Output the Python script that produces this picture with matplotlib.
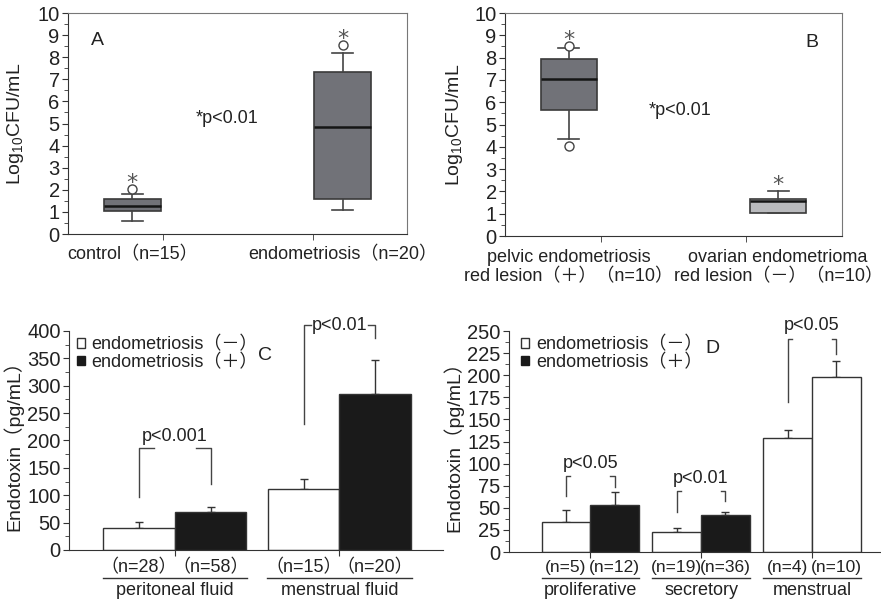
import numpy as np
import matplotlib.pyplot as plt
from matplotlib.patches import Patch

plt.rcParams['font.family'] = ['Liberation Sans', 'Noto Sans CJK JP']
plt.rcParams['font.size'] = 13
plt.rcParams['text.color'] = '#222222'
plt.rcParams['axes.labelcolor'] = '#222222'
plt.rcParams['xtick.color'] = '#333333'
plt.rcParams['ytick.color'] = '#333333'
plt.rcParams['xtick.labelcolor'] = '#222222'
plt.rcParams['ytick.labelcolor'] = '#222222'

# ---- A: log10 CFU/mL box plots ----
a_labels = ['control（n=15）', 'endometriosis（n=20）']
a_q1 = [1.05, 1.58]
a_med = [1.29, 4.83]
a_q3 = [1.58, 7.34]
a_lo = [0.57, 1.07]
a_hi = [1.80, 8.21]
a_out = [[2.05], [8.54]]

# ---- B ----
b_labels = ['pelvic endometriosis\nred lesion（＋）（n=10）',
            'ovarian endometrioma\nred lesion（－）（n=10）']
b_q1 = [5.64, 1.01]
b_med = [7.04, 1.55]
b_q3 = [7.93, 1.66]
b_lo = [4.34, 1.01]
b_hi = [8.45, 2.04]
b_out = [[8.50, 4.03], []]

# ---- C: endotoxin, mean + SE ----
c_groups = ['peritoneal fluid', 'menstrual fluid']
c_neg = [40.7, 111.9]
c_neg_err = [9.8, 18.1]
c_pos = [69.3, 284.5]
c_pos_err = [8.5, 63.2]
c_n_neg = ['（n=28）', '（n=15）']
c_n_pos = ['（n=58）', '（n=20）']
c_p = ['p<0.001', 'p<0.01']
c_br_left = [97, 231]
c_br_right = [120, 387]
c_br_top = [187, 410]

# ---- D ----
d_groups = ['proliferative', 'secretory', 'menstrual']
d_neg = [33.5, 22.6, 129.1]
d_neg_err = [13.9, 4.1, 8.7]
d_pos = [53.5, 41.4, 197.7]
d_pos_err = [13.9, 4.2, 18.0]
d_n_neg = ['(n=5)', '(n=19)', '(n=4)']
d_n_pos = ['(n=12)', '(n=36)', '(n=10)']
d_p = ['p<0.05', 'p<0.01', 'p<0.05']
d_br_left = [63, 45, 170]
d_br_right = [74, 58, 224]
d_br_top = [85.5, 68.5, 241]

legend_labels = ['endometriosis（－）', 'endometriosis（＋）']

fig = plt.figure(figsize=(8.81, 6.01), dpi=100)
axA = fig.add_axes([0.0772, 0.6106, 0.3848, 0.3677])
axB = fig.add_axes([0.5732, 0.6073, 0.3825, 0.3710])
axC = fig.add_axes([0.0783, 0.0849, 0.4245, 0.3644])
axD = fig.add_axes([0.5778, 0.0815, 0.4222, 0.3677])


def box_panel(ax, labels, q1, med, q3, lo, hi, out, colors, boundaries):
    stats = []
    for i in range(len(labels)):
        stats.append(dict(q1=q1[i], med=med[i], q3=q3[i], whislo=lo[i],
                          whishi=hi[i], fliers=out[i]))
    ax.bxp(stats, positions=[1, 2], widths=0.27, capwidths=0.1,
           patch_artist=True, showfliers=True,
           boxprops=dict(edgecolor='#3a3a3a', linewidth=1.2),
           medianprops=dict(color='#151515', linewidth=1.8),
           whiskerprops=dict(color='#444444', linewidth=1.2),
           capprops=dict(color='#444444', linewidth=1.2),
           flierprops=dict(marker='o', markerfacecolor='white',
                           markeredgecolor='#444444', markersize=6.5))
    for patch, c in zip(ax.patches, colors):
        patch.set_facecolor(c)
    # asterisks above each group
    for i in range(len(labels)):
        top = max([hi[i]] + out[i])
        ax.text(i + 1, top, '*', ha='center', va='baseline',
                fontsize=16, color='#555555', family='DejaVu Sans')
    ax.set_xlim(0.695, 2.305)
    ax.set_ylim(0, 10)
    ax.set_yticks(np.arange(0, 11, 1))
    ax.set_yticks(np.arange(0.5, 10, 1), minor=True)
    ax.set_xticks([1, 2], labels)
    ax.set_xticks(boundaries, minor=True)
    ax.tick_params(axis='x', which='major', length=0, pad=9)
    ax.tick_params(axis='x', which='minor', length=4, direction='out')
    ax.tick_params(axis='y', which='major', length=4, pad=2, labelsize=14.5)
    ax.tick_params(axis='y', which='minor', length=3)
    for s in ['left', 'bottom']:
        ax.spines[s].set_color('#333333')
    for s in ['top', 'right']:
        ax.spines[s].set_color('#777777')
    ax.set_ylabel('Log$_{\\mathregular{10}}$CFU/mL', fontsize=14)


box_panel(axA, a_labels, a_q1, a_med, a_q3, a_lo, a_hi, a_out,
          ['#717278', '#717278'], [1.148, 1.857])
axA.yaxis.set_label_coords(-0.124, 0.5)
axA.text(0.088, 0.878, 'A', transform=axA.transAxes, fontsize=14,
         ha='center', va='center')
axA.text(0.469, 0.525, '*p<0.01', transform=axA.transAxes,
         ha='center', va='center')

box_panel(axB, b_labels, b_q1, b_med, b_q3, b_lo, b_hi, b_out,
          ['#717278', '#b9babd'], [1.155, 1.847])
axB.yaxis.set_label_coords(-0.119, 0.5)
axB.text(0.911, 0.87, 'B', transform=axB.transAxes, fontsize=14,
         ha='center', va='center')
axB.text(0.519, 0.565, '*p<0.01', transform=axB.transAxes,
         ha='center', va='center')


def bar_panel(ax, groups, neg, neg_err, pos, pos_err, pos_colors, n_neg, n_pos,
              width, ylim, major, minor, lab_y, line_y, grp_y, n_size, leg_x):
    x = np.arange(len(groups))
    ax.bar(x - width / 2, neg, width, color='white', edgecolor='#333333',
           linewidth=1.0, zorder=2)
    ax.bar(x + width / 2, pos, width, color=pos_colors, edgecolor='#333333',
           linewidth=1.0, zorder=2)
    ax.errorbar(x - width / 2, neg, yerr=[np.zeros(len(x)), neg_err], fmt='none',
                ecolor='#333333', elinewidth=1.0, capsize=3, zorder=1)
    ax.errorbar(x + width / 2, pos, yerr=[np.zeros(len(x)), pos_err], fmt='none',
                ecolor='#333333', elinewidth=1.0, capsize=3, zorder=1)
    ax.set_ylim(*ylim)
    ax.set_yticks(major)
    ax.set_yticks(minor, minor=True)
    ax.set_xticks(x, [''] * len(x))
    ax.tick_params(axis='x', length=4, direction='out')
    ax.tick_params(axis='y', which='major', length=4, pad=2, labelsize=14.5)
    ax.tick_params(axis='y', which='minor', length=3)
    for s in ['top', 'right']:
        ax.spines[s].set_visible(False)
    for s in ['left', 'bottom']:
        ax.spines[s].set_color('#333333')
    tr = ax.get_xaxis_transform()
    for i in range(len(x)):
        ax.text(x[i] - width / 2, lab_y, n_neg[i], transform=tr, ha='center',
                va='center', fontsize=n_size)
        ax.text(x[i] + width / 2, lab_y, n_pos[i], transform=tr, ha='center',
                va='center', fontsize=n_size)
        ax.plot([x[i] - 0.44, x[i] + 0.44], [line_y, line_y], transform=tr,
                color='#333333', lw=1.0, clip_on=False)
        ax.text(x[i], grp_y, groups[i], transform=tr, ha='center', va='center')
    ax.set_ylabel('Endotoxin（pg/mL）', fontsize=14)
    ax.legend(handles=[Patch(facecolor='white', edgecolor='#333333'),
                       Patch(facecolor='#1a1a1a', edgecolor='#1a1a1a')],
              labels=legend_labels, loc='upper left',
              bbox_to_anchor=(leg_x, 0.975),
              frameon=False, handlelength=0.45, handleheight=0.45,
              handletextpad=0.35, labelspacing=0.0, borderaxespad=0,
              borderpad=0.0)


def bracket(ax, x1, x2, yl, yr, yt, gap, text, text_y):
    xc = (x1 + x2) / 2
    kw = dict(color='#444444', lw=1.0, clip_on=False)
    ax.plot([x1, x1, xc - gap], [yl, yt, yt], **kw)
    ax.plot([xc + gap, x2, x2], [yt, yt, yr], **kw)
    ax.text(xc, text_y, text, ha='center', va='center', clip_on=False)


wc = 0.4347
bar_panel(axC, c_groups, c_neg, c_neg_err, c_pos, c_pos_err, '#1a1a1a',
          c_n_neg, c_n_pos, wc, (0, 400), np.arange(0, 401, 50),
          np.arange(25, 400, 50), -0.082, -0.128, -0.183, 13, 0.022)
axC.set_xlim(-0.644, 1.629)
axC.yaxis.set_label_coords(-0.123, 0.5)
axC.text(0.524, 0.89, 'C', transform=axC.transAxes, fontsize=14,
         ha='center', va='center')
bracket(axC, -wc / 2, wc / 2, c_br_left[0], c_br_right[0], c_br_top[0], 0.13,
        c_p[0], 208)
bracket(axC, 1 - wc / 2, 1 + wc / 2, c_br_left[1], c_br_right[1], c_br_top[1],
        0.175, c_p[1], c_br_top[1])

wd = 0.439
bar_panel(axD, d_groups, d_neg, d_neg_err, d_pos, d_pos_err,
          ['#1a1a1a', '#1a1a1a', 'white'], d_n_neg, d_n_pos, wd, (0, 250),
          np.arange(0, 251, 25), np.arange(12.5, 250, 25), -0.072, -0.118,
          -0.172, 12.5, 0.033)
axD.set_xlim(-0.733, 2.624)
axD.yaxis.set_label_coords(-0.124, 0.5)
axD.text(0.548, 0.923, 'D', transform=axD.transAxes, fontsize=14,
         ha='center', va='center')
for i in range(3):
    bracket(axD, i - wd / 2, i + wd / 2, d_br_left[i], d_br_right[i],
            d_br_top[i], 0.18, d_p[i], d_br_top[i] + 15)

fig.savefig('out.png', dpi=100)
